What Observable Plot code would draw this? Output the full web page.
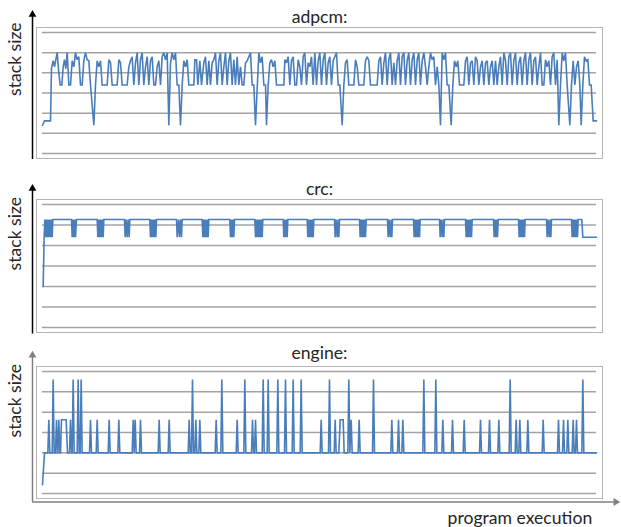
<!DOCTYPE html>
<html><head><meta charset="utf-8">
<script src="https://cdn.jsdelivr.net/npm/d3@7"></script>
<script src="https://cdn.jsdelivr.net/npm/@observablehq/plot@0.6"></script>
<style>
html,body{margin:0;padding:0;background:#fff;}
#chart{position:relative;width:621px;height:527px;overflow:hidden;}
#chart svg{position:absolute;left:0;overflow:visible;}
</style></head><body><div id="chart"></div>
<script>
const titles = ["adpcm:", "crc:", "engine:"];
const yLabel = "stack size";
const xLabel = "program execution";
const gridLevels = [0, 1, 2, 3, 4, 5, 6];
const executionDomain = [0, 1662];

// [execution step, stack level]
const adpcm = [
[0,1.4],[6,1.62],[24,1.62],[27,4.25],[32,4.6],[36,4.3],[40,4.65],[44,5.0],[49,4.0],[53,3.4],[58,3.4],[62,4.3],[66,4.65],[70,4.2],[74,5.0],[79,3.4],[84,3.4],[89,4.6],[94,4.3],[99,5.0],[104,4.65],[109,4.8],[114,3.4],[119,3.4],[124,4.6],[129,5.0],[134,4.65],[139,4.6],[144,3.4],[154,1.4],[159,3.4],[164,4.6],[169,4.3],[174,4.6],[179,3.4],[194,3.4],[199,4.65],[204,4.5],[209,3.4],[224,3.4],[229,4.65],[234,4.5],[239,3.4],[254,3.4],[259,4.3],[264,4.6],[269,4.8],[274,3.4],[279,4.5],[284,5.0],[289,3.4],[294,4.65],[299,5.0],[304,3.4],[309,4.3],[314,4.8],[319,3.4],[324,4.6],[329,4.8],[334,3.4],[339,3.4],[344,4.3],[349,4.6],[354,3.4],[359,4.8],[364,5.0],[369,4.65],[374,5.0],[379,1.4],[384,4.5],[389,5.0],[394,4.65],[399,5.0],[404,3.4],[409,3.4],[414,1.4],[419,3.4],[424,4.6],[429,4.3],[434,4.65],[439,3.4],[454,3.4],[457,4.65],[462,4.65],[466,3.4],[472,4.6],[477,3.4],[484,4.5],[489,4.8],[494,3.4],[499,4.6],[504,3.4],[509,4.5],[514,4.65],[519,5.0],[524,3.4],[529,4.6],[534,5.0],[539,3.4],[544,4.3],[549,5.0],[554,3.4],[559,4.6],[564,5.0],[569,3.4],
[574,4.65],[579,3.4],[584,4.8],[589,3.4],[594,4.3],[599,3.4],[604,3.4],[609,4.5],[614,4.6],[619,4.8],[624,5.0],[629,3.4],[634,3.4],[639,1.4],[649,5.0],[654,4.5],[659,4.8],[664,3.4],[669,3.4],[672,1.4],[677,3.4],[682,4.5],[687,4.65],[692,4.3],[697,4.6],[702,3.4],[724,3.4],[727,4.65],[732,4.5],[737,4.8],[742,3.4],[747,4.6],[752,4.8],[757,3.4],[762,3.4],[767,4.65],[772,4.3],[777,3.4],[782,4.8],[787,5.0],[792,3.4],[797,4.5],[802,4.3],[807,4.8],[812,3.4],[817,5.0],[822,3.4],[827,4.6],[832,5.0],[837,3.4],[842,4.65],[847,5.0],[852,3.4],[857,4.5],[862,4.8],[867,3.4],[872,4.6],[877,4.8],[882,5.0],[887,3.4],[892,3.4],[899,1.4],[904,3.4],[909,4.5],[914,4.65],[919,3.4],[934,3.4],[939,4.65],[944,4.3],[949,3.4],[964,3.4],[969,4.6],[974,4.8],[979,4.6],[984,3.4],[1004,3.4],[1009,4.6],[1014,4.8],[1019,3.4],[1024,4.5],[1029,5.0],[1034,3.4],[1039,4.65],[1044,5.0],[1049,3.4],[1054,4.5],[1059,3.4],[1064,4.6],[1069,5.0],[1074,3.4],[1079,4.8],[1084,5.0],[1089,3.4],[1094,4.6],[1099,5.0],[1104,3.4],[1109,4.65],[1114,5.0],
[1119,3.4],[1124,4.65],[1129,5.0],[1134,3.4],[1139,4.6],[1144,5.0],[1149,4.3],[1154,3.4],[1159,4.3],[1164,5.0],[1169,4.65],[1174,4.8],[1179,3.4],[1184,4.3],[1189,3.4],[1194,1.4],[1199,5.0],[1204,4.65],[1209,5.0],[1214,3.4],[1219,3.4],[1226,1.4],[1231,3.4],[1236,4.6],[1241,4.3],[1246,4.6],[1251,3.4],[1264,3.4],[1269,4.6],[1274,4.8],[1279,3.4],[1284,4.5],[1289,4.6],[1294,3.4],[1299,4.8],[1304,4.6],[1309,3.4],[1314,4.3],[1319,4.6],[1324,3.4],[1329,4.5],[1334,4.6],[1339,3.4],[1344,4.3],[1349,4.6],[1354,3.4],[1359,4.6],[1364,3.4],[1369,4.3],[1374,4.8],[1379,3.4],[1384,5.0],[1389,4.6],[1394,3.4],[1399,4.8],[1404,5.0],[1409,3.4],[1414,4.6],[1419,5.0],[1424,3.4],[1429,4.5],[1434,4.8],[1439,3.4],[1444,4.6],[1449,5.0],[1454,3.4],[1459,4.65],[1464,5.0],[1469,3.4],[1474,4.6],[1479,4.8],[1484,3.4],[1489,4.3],[1494,5.0],[1499,3.4],[1504,3.4],[1509,4.65],[1514,4.3],[1519,4.6],[1524,3.4],[1529,4.8],[1534,5.0],[1539,3.4],[1544,4.65],[1549,1.4],[1554,3.4],[1559,5.0],[1564,4.6],[1569,5.0],[1574,3.4],[1582,1.4],[1587,3.4],[1592,4.6],[1597,3.4],[1602,4.3],[1607,4.6],[1612,3.4],[1616,1.4],[1621,3.4],[1626,4.8],[1631,4.6],[1636,4.65],[1641,3.4],[1646,3.4],[1652,1.62],[1662,1.62]
];

const crc = [
[2,2.0],[5,4.4],[7,5.27],[9,4.4],[11,5.27],[13,4.4],[15,5.27],[17,4.4],[19,5.27],[21,4.4],[23,5.27],[25,4.4],[27,5.27],[29,4.4],[31,5.27],
[87,5.27],[89,4.4],[92,5.27],[94,4.4],[97,5.27],[99,4.4],[102,5.27],
[164,5.27],[166,4.4],[168,5.27],[170,4.4],[172,5.27],[174,4.4],[176,5.27],[178,4.4],[180,5.27],[182,4.4],[184,5.27],
[246,5.27],[248,4.4],[251,5.27],[254,4.4],[257,5.27],[260,4.4],[262,5.27],
[322,5.27],[324,4.4],[326,5.27],[328,4.4],[330,5.27],[332,4.4],[334,5.27],[336,4.4],[338,5.27],[340,4.4],[342,5.27],
[402,5.27],[404,4.4],[408,5.27],[411,4.4],[414,5.27],[417,4.4],[419,5.27],
[479,5.27],[481,4.4],[483,5.27],[485,4.4],[487,5.27],[489,4.4],[491,5.27],[493,4.4],[495,5.27],[497,4.4],[499,5.27],
[562,5.27],[564,4.4],[567,5.27],[569,4.4],[572,5.27],[574,4.4],[576,5.27],
[637,5.27],[639,4.4],[641,5.27],[643,4.4],[645,5.27],[647,4.4],[649,5.27],[651,4.4],[653,5.27],[655,4.4],[657,5.27],[659,4.4],[661,5.27],
[722,5.27],[724,4.4],[727,5.27],[729,4.4],[732,5.27],[734,4.4],[736,5.27],
[794,5.27],[796,4.4],[798,5.27],[800,4.4],[802,5.27],[804,4.4],[806,5.27],[808,4.4],[810,5.27],[812,4.4],[814,5.27],
[876,5.27],[878,4.4],[881,5.27],[884,4.4],[887,5.27],[889,4.4],[891,5.27],
[951,5.27],[953,4.4],[955,5.27],[957,4.4],[959,5.27],[961,4.4],[963,5.27],[965,4.4],[967,5.27],[969,4.4],[971,5.27],
[1035,5.27],[1037,4.4],[1040,5.27],[1043,4.4],[1046,5.27],[1048,4.4],[1050,5.27],
[1113,5.27],[1115,4.4],[1117,5.27],[1119,4.4],[1121,5.27],[1123,4.4],[1125,5.27],[1127,4.4],[1129,5.27],[1131,4.4],[1133,5.27],
[1191,5.27],[1193,4.4],[1196,5.27],[1199,4.4],[1202,5.27],[1204,4.4],[1206,5.27],
[1269,5.27],[1271,4.4],[1273,5.27],[1275,4.4],[1277,5.27],[1279,4.4],[1281,5.27],[1283,4.4],[1285,5.27],[1287,4.4],[1289,5.27],
[1353,5.27],[1355,4.4],[1358,5.27],[1360,4.4],[1363,5.27],[1365,4.4],[1367,5.27],
[1428,5.27],[1430,4.4],[1432,5.27],[1434,4.4],[1436,5.27],[1438,4.4],[1440,5.27],[1442,4.4],[1444,5.27],[1446,4.4],[1448,5.27],
[1512,5.27],[1514,4.4],[1517,5.27],[1520,4.4],[1523,5.27],[1525,4.4],[1527,5.27],
[1587,5.27],[1589,4.4],[1591,5.27],[1593,4.4],[1595,5.27],[1597,4.4],[1599,5.27],[1601,4.4],[1603,5.27],[1605,4.4],[1607,5.27],
[1618,5.27],[1621,4.4],[1662,4.4]
];

const engine = [
[0,0.43],[6,2],
[16,2],[19,3.63],[22,2],
[29,2],[32,5.6],[35,2],
[39,2],[42,3.63],[45,2],
[46,2],[49,3.63],[52,2],
[54,2],[57,3.63],[71,3.63],[75,2],
[81,2],[84,3.63],[87,2],
[89,2],[92,5.6],[95,2],
[104,2],[107,5.6],[110,2],
[113,2],[116,5.6],[119,2],
[141,2],[144,3.63],[147,2],
[161,2],[164,3.63],[167,2],
[197,2],[200,3.63],[203,2],
[226,2],[229,3.63],[232,2],
[269,2],[272,3.63],[275,2],[278,3.63],[281,2],
[291,2],[294,3.63],[297,2],
[347,2],[350,3.63],[353,2],
[377,2],[380,3.63],[383,2],
[437,2],[440,3.63],[443,2],[447,2],[450,5.6],[453,2],[457,2],[460,3.63],[463,2],
[469,2],[472,3.63],[475,2],
[518,2],[521,3.63],[524,2],
[535,2],[538,5.6],[541,2],
[581,2],[584,3.63],[587,2],
[604,2],[607,5.6],[610,2],
[627,2],[630,3.63],[633,2],
[636,2],[639,3.63],[642,2],
[659,2],[662,5.6],[665,2],
[674,2],[677,5.6],[680,2],
[703,2],[706,5.6],[709,2],
[726,2],[729,5.6],[732,2],
[749,2],[752,5.6],[755,2],
[773,2],[776,5.6],[779,2],
[833,2],[836,3.63],[839,2],
[858,2],[861,5.6],[864,2],
[875,2],[878,3.63],[881,2],
[889,2],[893,3.63],[902,3.63],[905,2],
[916,2],[919,5.6],[922,2],[926,3.63],[929,2],
[947,2],[950,3.63],[953,2],
[990,2],[993,5.6],[996,2],
[1045,2],[1048,3.63],[1051,2],
[1065,2],[1068,3.63],[1071,2],
[1078,2],[1081,3.63],[1084,2],
[1141,2],[1144,5.6],[1147,2],
[1177,2],[1180,5.6],[1183,2],
[1198,2],[1201,3.63],[1204,2],
[1227,2],[1230,3.63],[1233,2],
[1262,2],[1265,3.63],[1268,2],
[1311,2],[1314,3.63],[1317,2],
[1338,2],[1341,3.63],[1344,2],
[1366,2],[1369,3.63],[1372,2],
[1400,2],[1403,5.6],[1406,2],
[1418,2],[1421,3.63],[1424,2],
[1429,2],[1432,3.63],[1435,2],
[1453,2],[1456,3.63],[1459,2],
[1499,2],[1502,3.63],[1505,2],
[1545,2],[1548,3.63],[1551,2],
[1560,2],[1563,3.63],[1566,2],
[1573,2],[1576,3.63],[1579,2],
[1589,2],[1592,3.63],[1595,2],
[1599,2],[1602,3.63],[1605,2],
[1618,2],[1621,5.6],[1624,2],
[1662,2]
];

const series = [adpcm, crc, engine];

const layout = [
  {top: 0,   height: 170, mt: 32, mb: 17, axis: "#000000", titleDy: -9.5,  labelDy: -10,  arrowTop: -19, arrowBottom: -6,   headDy: -18},
  {top: 170, height: 166, mt: 34, mb: 9,  axis: "#000000", titleDy: -9.5,  labelDy: -7.5, arrowTop: -16, arrowBottom: -6.5, headDy: -16},
  {top: 336, height: 191, mt: 35, mb: 34, axis: "#808080", titleDy: -13,   labelDy: -7.5, arrowTop: -16, arrowBottom: -8.5, headDy: -16.3, xAxis: true}
];

const FONT = 17.6;
const container = document.getElementById("chart");

layout.forEach((p, i) => {
  const marks = [
    Plot.ruleY(gridLevels, {y: d => d, stroke: "#a3a3a3", strokeWidth: 1.5}),
    Plot.frame({stroke: "#b5b5b5", strokeWidth: 1, insetTop: -5, insetBottom: -5, insetLeft: -6, insetRight: -6}),
    Plot.line(series[i], {x: d => d[0], y: d => d[1], stroke: "#4a7ebb", strokeWidth: 1.6, strokeLinejoin: "miter", strokeMiterlimit: 2}),
    Plot.ruleX([executionDomain[0]], {x: d => d, dx: -10, insetTop: p.arrowTop, insetBottom: p.arrowBottom, stroke: p.axis, strokeWidth: 1.5}),
    Plot.dot([executionDomain[0]], {x: d => d, frameAnchor: "top", dx: -10, dy: p.headDy, symbol: "triangle", r: 2.9, fill: p.axis, stroke: "none"}),
    Plot.text([titles[i]], {text: d => d, frameAnchor: "top", dy: p.titleDy, lineAnchor: "bottom", fontSize: FONT, fill: "#262626"}),
    Plot.text([yLabel], {text: d => d, frameAnchor: "top-left", dx: -21.5, dy: p.labelDy, rotate: -90, textAnchor: "end", lineAnchor: "bottom", fontSize: FONT, fill: "#262626"})
  ];
  if (p.xAxis) {
    marks.push(
      Plot.ruleY([gridLevels[0]], {y: d => d, dy: 8.5, insetLeft: -10, insetRight: -19, stroke: p.axis, strokeWidth: 1.5}),
      Plot.dot([gridLevels[0]], {y: d => d, frameAnchor: "right", dx: 19.3, dy: 8.5, symbol: "triangle", rotate: 90, r: 2.9, fill: p.axis, stroke: "none"}),
      Plot.text([xLabel], {text: d => d, frameAnchor: "bottom-right", dx: -4.3, dy: 30.5, textAnchor: "end", lineAnchor: "bottom", fontSize: FONT, fill: "#262626"})
    );
  }
  const svg = Plot.plot({
    width: 621,
    height: p.height,
    marginTop: p.mt,
    marginBottom: p.mb,
    marginLeft: 42,
    marginRight: 25,
    x: {domain: executionDomain, axis: null},
    y: {domain: [gridLevels[0], gridLevels[gridLevels.length - 1]], axis: null},
    style: {fontFamily: "Lato, 'Open Sans', sans-serif", background: "transparent", overflow: "visible"},
    marks
  });
  svg.style.top = p.top + "px";
  container.appendChild(svg);
});
</script>
</body></html>
